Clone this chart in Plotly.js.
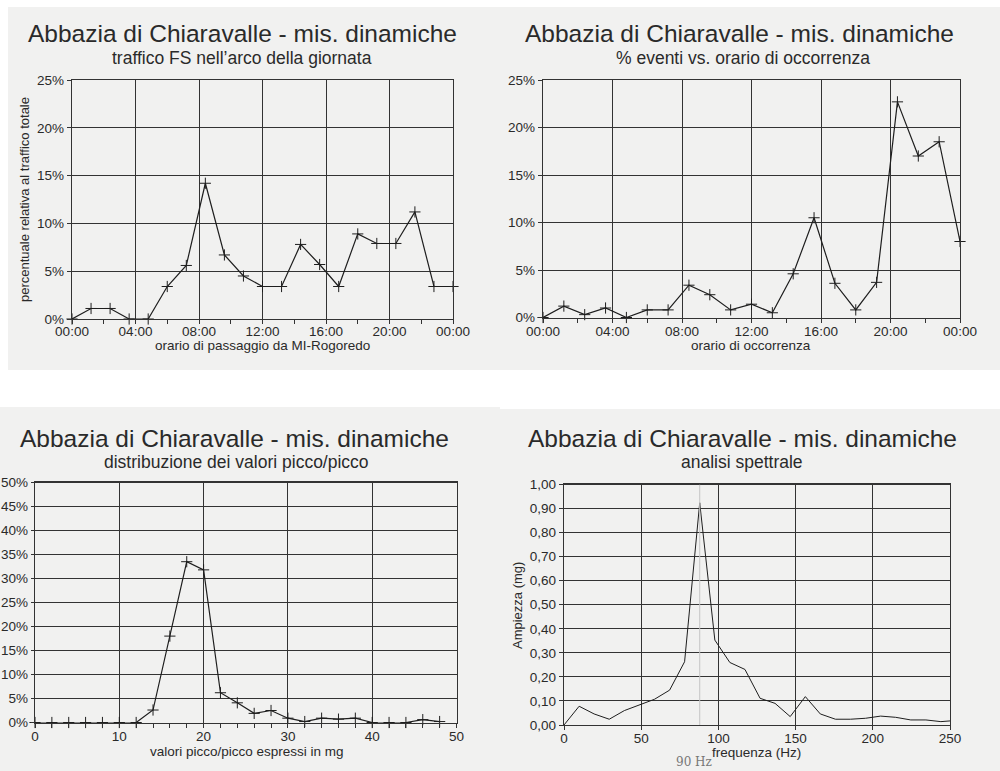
<!DOCTYPE html>
<html>
<head>
<meta charset="utf-8">
<script src="https://cdn.plot.ly/plotly-3.0.1.min.js"></script>
<style>html,body{margin:0;padding:0;background:#fff;}#chart{width:1000px;height:771px;}</style>
</head>
<body>
<div id="chart"></div>
<script>
// ---- Data ----
const hours = [0, 1.2, 2.4, 3.6, 4.8, 6.0, 7.2, 8.4, 9.6, 10.8, 12.0, 13.2, 14.4, 15.6, 16.8, 18.0, 19.2, 20.4, 21.6, 22.8, 24.0];
const trafficPct = [0, 1.1, 1.1, 0, 0, 3.4, 5.6, 14.2, 6.7, 4.5, 3.4, 3.4, 7.8, 5.7, 3.4, 8.9, 7.9, 7.9, 11.2, 3.4, 3.4];
const eventsPct = [0, 1.2, 0.3, 1.0, 0, 0.8, 0.8, 3.4, 2.4, 0.8, 1.4, 0.5, 4.6, 10.5, 3.6, 0.8, 3.7, 22.7, 17.0, 18.5, 8.0];
const hourTickVals = [0, 4, 8, 12, 16, 20, 24];
const hourTickText = ["00:00", "04:00", "08:00", "12:00", "16:00", "20:00", "00:00"];

const peakMg = [0, 2, 4, 6, 8, 10, 12, 14, 16, 18, 20, 22, 24, 26, 28, 30, 32, 34, 36, 38, 40, 42, 44, 46, 48];
const peakPct = [0, 0, 0, 0, 0, 0, 0, 2.6, 18.0, 33.5, 31.8, 6.2, 4.1, 1.9, 2.5, 0.9, 0.2, 0.9, 0.7, 0.9, 0, 0, 0, 0.6, 0.2];

const freqHz = [0, 9.8, 19.5, 29.3, 39.1, 48.8, 58.6, 68.4, 78.1, 87.9, 97.7, 107.4, 117.2, 127.0, 136.7, 146.5, 156.3, 166.0, 175.8, 185.5, 195.3, 205.1, 214.8, 224.6, 234.4, 244.1, 250];
const amplMg = [0, 0.078, 0.046, 0.024, 0.060, 0.083, 0.107, 0.145, 0.263, 0.924, 0.353, 0.260, 0.231, 0.111, 0.090, 0.035, 0.118, 0.046, 0.024, 0.024, 0.028, 0.037, 0.032, 0.021, 0.021, 0.014, 0.017];

const mainTitle = "Abbazia di Chiaravalle - mis. dinamiche";
const subTitles = ["traffico FS nell\u2019arco della giornata", "% eventi vs. orario di occorrenza", "distribuzione dei valori picco/picco", "analisi spettrale"];

// ---- Styles ----
const W = 1000, H = 771;
const ink = '#2a2a2a';
const font = {family: 'Liberation Sans, Arial, sans-serif', color: ink};
const px = x => x / W;
const py = y => 1 - y / H;

const lineStyle = {color: '#1e1e1e', width: 1.2};
const markerStyle = {symbol: 'cross-thin', size: 8, line: {color: '#1e1e1e', width: 1}};

const traces = [
  {x: hours, y: trafficPct, xaxis: 'x', yaxis: 'y', mode: 'lines+markers', line: lineStyle, marker: markerStyle, cliponaxis: false},
  {x: hours, y: eventsPct, xaxis: 'x2', yaxis: 'y2', mode: 'lines+markers', line: lineStyle, marker: markerStyle, cliponaxis: false},
  {x: peakMg, y: peakPct, xaxis: 'x3', yaxis: 'y3', mode: 'lines+markers', line: lineStyle, marker: markerStyle, cliponaxis: false},
  {x: freqHz, y: amplMg, xaxis: 'x4', yaxis: 'y4', mode: 'lines', line: {color: '#1e1e1e', width: 1}, cliponaxis: false}
];

function axisBase(domain, anchor, extra) {
  return Object.assign({
    domain: domain, anchor: anchor,
    showline: true, mirror: true, linecolor: '#333', linewidth: 1.2,
    showgrid: true, gridcolor: '#333', gridwidth: 1,
    ticks: 'outside', ticklen: 4, tickcolor: '#333',
    tickfont: {family: font.family, size: 13.5, color: ink},
    zeroline: false, fixedrange: true
  }, extra);
}

const hourMinor = {tickvals: [2, 6, 10, 14, 18, 22], ticks: 'outside', ticklen: 4, tickcolor: '#333', showgrid: false};

const layout = {
  width: W, height: H,
  margin: {l: 0, r: 0, t: 0, b: 0},
  paper_bgcolor: '#ffffff',
  plot_bgcolor: 'rgba(0,0,0,0)',
  showlegend: false,
  separators: ', ',
  font: font,
  xaxis: axisBase([px(72), px(453)], 'y', {range: [0, 24], tickmode: 'array', tickvals: hourTickVals, ticktext: hourTickText, minor: hourMinor, ticklabelstandoff: -4}),
  yaxis: axisBase([py(319), py(80)], 'x', {range: [0, 25], dtick: 5, ticksuffix: '%'}),
  xaxis2: axisBase([px(543), px(960)], 'y2', {range: [0, 24], tickmode: 'array', tickvals: hourTickVals, ticktext: hourTickText, minor: hourMinor, ticklabelstandoff: -3}),
  yaxis2: axisBase([py(317.5), py(80)], 'x2', {range: [0, 25], dtick: 5, ticksuffix: '%'}),
  xaxis3: axisBase([px(35), px(456.5)], 'y3', {range: [0, 50], dtick: 10, minor: {dtick: 2, ticks: 'outside', ticklen: 4, tickcolor: '#333', showgrid: false}, ticklabelstandoff: -3}),
  yaxis3: axisBase([py(722.5), py(482.5)], 'x3', {range: [0, 50], dtick: 5, ticksuffix: '%', ticklen: 3}),
  xaxis4: axisBase([px(564), px(950)], 'y4', {range: [0, 250], dtick: 50, ticklabelstandoff: -3}),
  yaxis4: axisBase([py(725), py(484.5)], 'x4', {range: [0, 1], dtick: 0.1, tickformat: '.2f'}),
  shapes: [
    {type: 'rect', xref: 'paper', yref: 'paper', x0: px(8), x1: px(500), y0: py(370), y1: py(7), fillcolor: '#f1f1f0', line: {width: 0}, layer: 'below'},
    {type: 'rect', xref: 'paper', yref: 'paper', x0: px(500), x1: px(1000), y0: py(370), y1: py(7), fillcolor: '#f1f1f0', line: {width: 0}, layer: 'below'},
    {type: 'rect', xref: 'paper', yref: 'paper', x0: px(0), x1: px(500), y0: py(771), y1: py(407), fillcolor: '#f1f1f0', line: {width: 0}, layer: 'below'},
    {type: 'rect', xref: 'paper', yref: 'paper', x0: px(500), x1: px(1000), y0: py(771), y1: py(409), fillcolor: '#f1f1f0', line: {width: 0}, layer: 'below'},
    {type: 'line', xref: 'x4', yref: 'y4', x0: 87.9, x1: 87.9, y0: 0, y1: 1, line: {color: '#c4c4c4', width: 1}}
  ],
  annotations: []
};

function addText(text, x, y, size, extra) {
  layout.annotations.push(Object.assign({
    text: text, xref: 'paper', yref: 'paper', x: px(x), y: py(y),
    xanchor: 'center', yanchor: 'middle', showarrow: false,
    font: {family: font.family, size: size, color: ink}
  }, extra || {}));
}

// Titles
addText(mainTitle, 242, 34, 24.5);
addText(subTitles[0], 242, 58, 17.5);
addText(mainTitle, 739, 34, 24.5);
addText(subTitles[1], 743, 58, 17.5);
addText(mainTitle, 234, 438, 24.5);
addText(subTitles[2], 236, 462, 17.5);
addText(mainTitle, 742, 438, 24.5);
addText(subTitles[3], 742, 462, 17.5);

// Axis titles
addText("orario di passaggio da MI-Rogoredo", 262, 345, 13.5);
addText("percentuale relativa al traffico totale", 25, 200, 13, {textangle: -90});
addText("orario di occorrenza", 751, 346, 13.5);
addText("valori picco/picco espressi in mg", 247, 751, 13.5);
addText("frequenza (Hz)", 756, 752, 13.5);
addText("Ampiezza (mg)", 517, 606, 13, {textangle: -90});
addText("90 Hz", 694, 762, 12, {font: {family: 'DejaVu Serif, serif', size: 12, color: '#777'}});

Plotly.newPlot('chart', traces, layout, {staticPlot: true, displayModeBar: false});
</script>
</body>
</html>
